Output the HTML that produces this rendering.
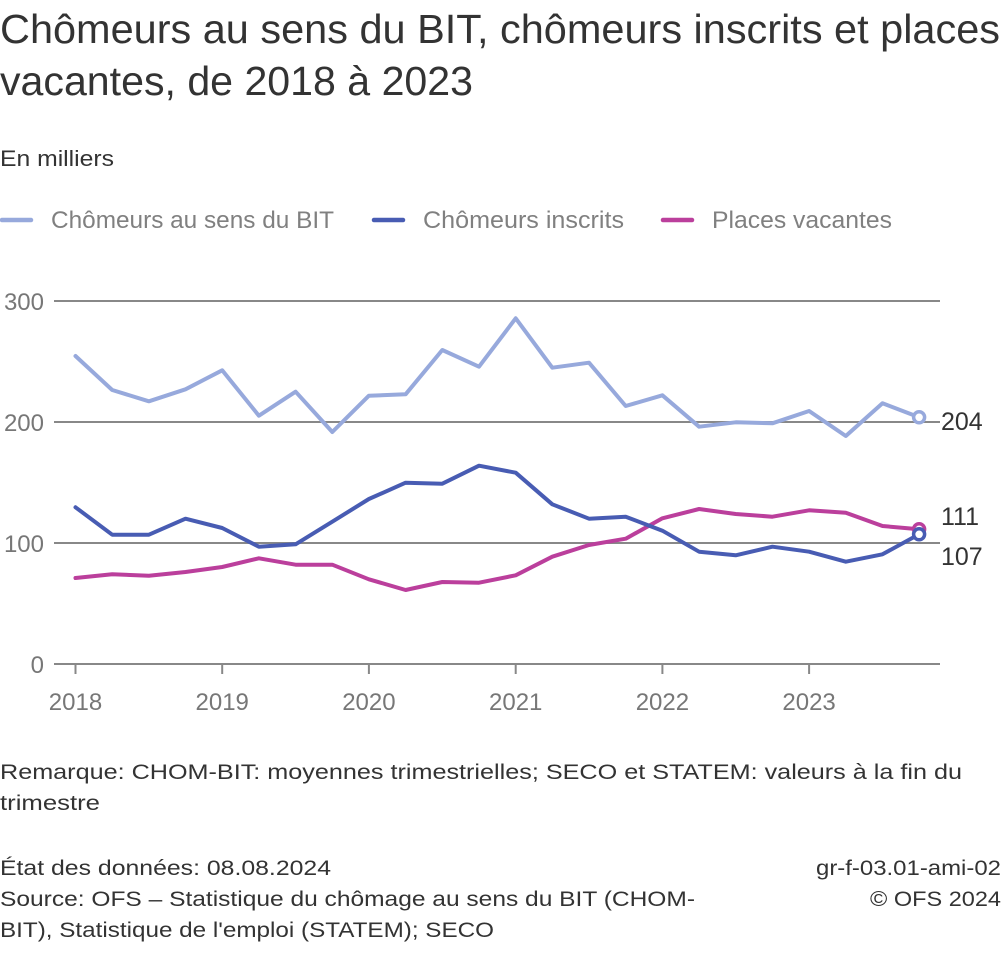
<!DOCTYPE html>
<html><head><meta charset="utf-8"><style>
html,body{margin:0;padding:0;background:#fff;}
svg{display:block;}
text{font-family:"Liberation Sans",Arial,sans-serif;}
</style></head><body>
<svg width="1004" height="953" viewBox="0 0 1004 953" xmlns="http://www.w3.org/2000/svg">
<rect width="1004" height="953" fill="#fff"/>
<text x="0" y="43" font-size="41" fill="#333" textLength="1000" lengthAdjust="spacingAndGlyphs">Chômeurs au sens du BIT, chômeurs inscrits et places</text>
<text x="0" y="95" font-size="41" fill="#333" textLength="473" lengthAdjust="spacingAndGlyphs">vacantes, de 2018 à 2023</text>
<text x="0" y="166" font-size="22" fill="#333" textLength="114" lengthAdjust="spacingAndGlyphs">En milliers</text>

<line x1="2" y1="220" x2="31" y2="220" stroke="#97a9dc" stroke-width="4.5" stroke-linecap="round"/>
<text x="51" y="228" font-size="24" fill="#808080" textLength="283" lengthAdjust="spacingAndGlyphs">Chômeurs au sens du BIT</text>
<line x1="374" y1="220" x2="403" y2="220" stroke="#485cb3" stroke-width="4.5" stroke-linecap="round"/>
<text x="423" y="228" font-size="24" fill="#808080" textLength="201" lengthAdjust="spacingAndGlyphs">Chômeurs inscrits</text>
<line x1="663" y1="220" x2="692" y2="220" stroke="#bb3f9c" stroke-width="4.5" stroke-linecap="round"/>
<text x="712" y="228" font-size="24" fill="#808080" textLength="180" lengthAdjust="spacingAndGlyphs">Places vacantes</text>

<g stroke="#888" stroke-width="2">
<line x1="54" y1="301" x2="940" y2="301"/>
<line x1="54" y1="422" x2="940" y2="422"/>
<line x1="54" y1="543" x2="940" y2="543"/>
<line x1="54" y1="664" x2="940" y2="664"/>
<line x1="75.5" y1="664" x2="75.5" y2="674"/>
<line x1="222.2" y1="664" x2="222.2" y2="674"/>
<line x1="368.9" y1="664" x2="368.9" y2="674"/>
<line x1="515.7" y1="664" x2="515.7" y2="674"/>
<line x1="662.4" y1="664" x2="662.4" y2="674"/>
<line x1="809.1" y1="664" x2="809.1" y2="674"/>
</g>
<g font-size="24" fill="#777" text-anchor="end">
<text x="44" y="310">300</text>
<text x="44" y="431">200</text>
<text x="44" y="552">100</text>
<text x="44" y="673">0</text>
</g>
<g font-size="24" fill="#777" text-anchor="middle">
<text x="75.5" y="710">2018</text>
<text x="222.2" y="710">2019</text>
<text x="368.9" y="710">2020</text>
<text x="515.7" y="710">2021</text>
<text x="662.4" y="710">2022</text>
<text x="809.1" y="710">2023</text>
</g>

<g fill="none" stroke-width="4" stroke-linejoin="round" stroke-linecap="round">
<polyline stroke="#97a9dc" points="75.5,356 112.2,390 148.9,401.3 185.5,389.3 222.2,370.3 258.9,415.7 295.6,391.7 332.3,432 368.9,395.7 405.6,394.3 442.3,350 479,366.7 515.7,318.3 552.3,367.7 589,362.7 625.7,406 662.4,395.3 699.1,426.7 735.7,422.3 772.4,423.3 809.1,411 845.8,436 882.5,403.3 919.1,417.3"/>
<polyline stroke="#bb3f9c" points="75.5,578 112.2,574.3 148.9,575.7 185.5,572 222.2,567 258.9,558.3 295.6,564.7 332.3,564.7 368.9,579.3 405.6,590 442.3,582 479,582.7 515.7,575.3 552.3,556.7 589,545 625.7,538.7 662.4,518.3 699.1,509 735.7,514 772.4,516.7 809.1,510.3 845.8,512.7 882.5,526 919.1,529.3"/>
<polyline stroke="#485cb3" points="75.5,507.3 112.2,534.7 148.9,534.7 185.5,518.7 222.2,528 258.9,546.7 295.6,544.3 332.3,521.7 368.9,499 405.6,482.7 442.3,483.7 479,465.7 515.7,472.7 552.3,504.3 589,518.7 625.7,516.7 662.4,530.7 699.1,551.7 735.7,555.3 772.4,546.7 809.1,551.7 845.8,561.7 882.5,554.3 919.1,534.3"/>
</g>
<circle cx="919.1" cy="417.3" r="5.5" fill="#fff" stroke="#97a9dc" stroke-width="3.5"/>
<circle cx="919.1" cy="529.3" r="5.5" fill="#fff" stroke="#bb3f9c" stroke-width="3.5"/>
<circle cx="919.1" cy="534.3" r="5.5" fill="#fff" stroke="#485cb3" stroke-width="3.5"/>

<g font-size="25" fill="#333">
<text x="941" y="430">204</text>
<text x="941" y="525">111</text>
<text x="941" y="565">107</text>
</g>

<g font-size="21" fill="#333">
<text x="0" y="779" textLength="962" lengthAdjust="spacingAndGlyphs">Remarque: CHOM-BIT: moyennes trimestrielles; SECO et STATEM: valeurs à la fin du</text>
<text x="0" y="810" textLength="100" lengthAdjust="spacingAndGlyphs">trimestre</text>
<text x="0" y="875" textLength="331" lengthAdjust="spacingAndGlyphs">État des données: 08.08.2024</text>
<text x="0" y="906" textLength="695" lengthAdjust="spacingAndGlyphs">Source: OFS – Statistique du chômage au sens du BIT (CHOM-</text>
<text x="0" y="937" textLength="494" lengthAdjust="spacingAndGlyphs">BIT), Statistique de l'emploi (STATEM); SECO</text>
<text x="1001" y="875" text-anchor="end" textLength="185" lengthAdjust="spacingAndGlyphs">gr-f-03.01-ami-02</text>
<text x="1001" y="906" text-anchor="end" textLength="131" lengthAdjust="spacingAndGlyphs">© OFS 2024</text>
</g>
</svg>
</body></html>
